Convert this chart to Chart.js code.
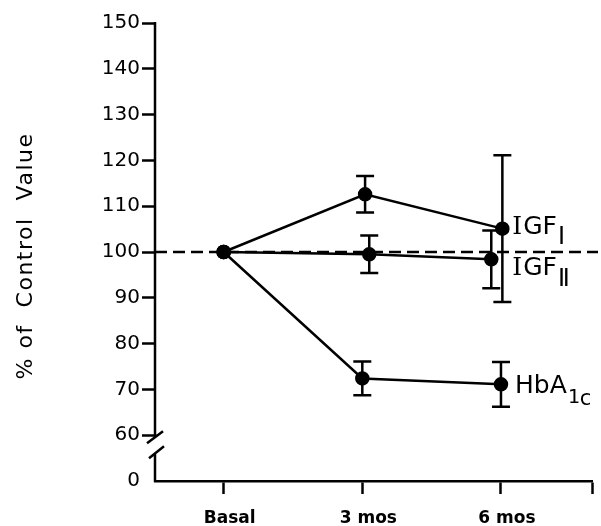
<!DOCTYPE html>
<html>
<head>
<meta charset="utf-8">
<script src="https://cdn.jsdelivr.net/npm/chart.js@4/dist/chart.umd.min.js"></script>
<style>
    html, body { margin: 0; padding: 0; background: #fff; }
    canvas { display: block; }
</style>
</head>
<body>
<canvas id="impactChart" width="601" height="526"></canvas>
<script>
// Time points on the x axis
const timeLabels = ['Basal', '3 mos', '6 mos'];
const timePos = [0, 1, 2];

// y tick labels ("0" sits below the axis break)
const yTickValues = [0, 60, 70, 80, 90, 100, 110, 120, 130, 140, 150];
const BREAK_AT = 50; // axis value where the "0" label is drawn

// % of control value, mean and error
const igf1Values = [100, 112.6, 105.1];
const igf1Errors = [0, 4.0, 16.0];
const igf2Values = [100, 99.5, 98.4];
const igf2Errors = [0, 4.1, 6.3];
const hbaValues = [100, 72.4, 71.1];
const hbaErrors = [0, 3.7, 4.9];

// small horizontal shifts the original used to keep the bars apart
const igf1Shift = [0, 0.02, 0.01];
const igf2Shift = [0, 0.05, -0.07];
const hbaShift = [0, 0, 0];

function toPoints(values, shift) {
    return values.map((v, i) => ({ x: timePos[i] + shift[i], y: v }));
}

const SANS = '"DejaVu Sans", sans-serif';
const SERIF = '"DejaVu Serif", serif';
const LINE_W = 2.5;

// Dashed 100% reference line
const controlLine = {
    id: 'controlLine',
    beforeDatasetsDraw(chart) {
        const { ctx, chartArea, scales: { y } } = chart;
        const py = y.getPixelForValue(100);
        ctx.save();
        ctx.strokeStyle = '#000';
        ctx.lineWidth = LINE_W;
        ctx.setLineDash([12, 6]);
        ctx.beginPath();
        ctx.moveTo(chartArea.left, py);
        ctx.lineTo(chart.width - 3, py);
        ctx.stroke();
        ctx.restore();
    }
};

// Vertical error bars with caps
const errorBars = {
    id: 'errorBars',
    beforeDatasetsDraw(chart) {
        const { ctx, scales: { x, y } } = chart;
        ctx.save();
        ctx.strokeStyle = '#000';
        ctx.lineWidth = LINE_W;
        chart.data.datasets.forEach(ds => {
            ds.data.forEach((pt, i) => {
                const e = ds.errors[i];
                if (!e) return;
                const px = x.getPixelForValue(pt.x);
                const top = y.getPixelForValue(pt.y + e);
                const bot = y.getPixelForValue(pt.y - e);
                ctx.beginPath();
                ctx.moveTo(px, top); ctx.lineTo(px, bot);
                ctx.moveTo(px - 9, top); ctx.lineTo(px + 9, top);
                ctx.moveTo(px - 9, bot); ctx.lineTo(px + 9, bot);
                ctx.stroke();
            });
        });
        ctx.restore();
    }
};

// Series names written next to the last point
const seriesTags = {
    id: 'seriesTags',
    afterDatasetsDraw(chart) {
        const { ctx, scales: { x, y } } = chart;
        ctx.save();
        ctx.fillStyle = '#000';
        ctx.textBaseline = 'alphabetic';
        chart.data.datasets.forEach(ds => {
            const tag = ds.tag;
            const last = ds.data[ds.data.length - 1];
            let cx = x.getPixelForValue(last.x) + tag.dx;
            const by = y.getPixelForValue(last.y);
            tag.parts.forEach(p => {
                ctx.font = p.font;
                ctx.fillText(p.text, cx, by + p.dy);
                cx += ctx.measureText(p.text).width + (p.gap || 0);
            });
        });
        ctx.restore();
    }
};

// y axis line with the break between 60 and 0, plus the axis title
const brokenAxis = {
    id: 'brokenAxis',
    afterDraw(chart) {
        const { ctx, chartArea, scales: { y } } = chart;
        const ax = chartArea.left;
        const y60 = y.getPixelForValue(60);
        ctx.save();
        ctx.strokeStyle = '#000';
        ctx.lineWidth = LINE_W;
        ctx.beginPath();
        ctx.moveTo(ax, chartArea.top - 1);
        ctx.lineTo(ax, y60 + 2);
        ctx.moveTo(ax - 8, y60 + 8);
        ctx.lineTo(ax + 8, y60 - 4);
        ctx.moveTo(ax - 6, y60 + 23);
        ctx.lineTo(ax + 9, y60 + 11);
        ctx.moveTo(ax, y60 + 18);
        ctx.lineTo(ax, chartArea.bottom + 1);
        ctx.stroke();

        // axis title
        ctx.translate(26, (chartArea.top + chartArea.bottom) / 2 + 4);
        ctx.rotate(-Math.PI / 2);
        ctx.font = '22px ' + SANS;
        ctx.letterSpacing = '1.5px';
        ctx.textAlign = 'center';
        ctx.textBaseline = 'middle';
        ctx.fillStyle = '#000';
        ctx.fillText('% of  Control  Value', 0, 0);
        ctx.restore();
    }
};

const lineStyle = {
    borderColor: '#000',
    borderWidth: LINE_W,
    pointRadius: 6,
    pointHoverRadius: 6,
    pointBackgroundColor: '#000',
    pointBorderColor: '#000',
    tension: 0,
    fill: false
};

const data = {
    datasets: [
        {
            label: 'IGF I',
            data: toPoints(igf1Values, igf1Shift),
            errors: igf1Errors,
            tag: { dx: 10, parts: [
                { text: 'I', font: '25px ' + SERIF, dy: 5, gap: 1 },
                { text: 'GF', font: '25px ' + SANS, dy: 5, gap: 1 },
                { text: 'Ⅰ', font: '24px ' + SANS, dy: 15 }
            ] },
            ...lineStyle
        },
        {
            label: 'IGF II',
            data: toPoints(igf2Values, igf2Shift),
            errors: igf2Errors,
            tag: { dx: 21, parts: [
                { text: 'I', font: '25px ' + SERIF, dy: 16, gap: 1 },
                { text: 'GF', font: '25px ' + SANS, dy: 16, gap: 1 },
                { text: 'Ⅱ', font: '24px ' + SANS, dy: 27 }
            ] },
            ...lineStyle
        },
        {
            label: 'HbA1c',
            data: toPoints(hbaValues, hbaShift),
            errors: hbaErrors,
            tag: { dx: 14, parts: [
                { text: 'HbA', font: '25px ' + SANS, dy: 9, gap: 1 },
                { text: '1', font: '20px "DejaVu Sans Mono", monospace', dy: 19 },
                { text: 'c', font: '21px ' + SANS, dy: 21 }
            ] },
            ...lineStyle
        }
    ]
};

const config = {
    type: 'line',
    data: data,
    options: {
        responsive: false,
        animation: false,
        layout: { padding: { top: 23, right: 6, left: 0, bottom: 0 } },
        plugins: {
            legend: { display: false },
            tooltip: { enabled: false }
        },
        scales: {
            x: {
                type: 'linear',
                min: -0.495,
                max: 2.66,
                afterBuildTicks: s => {
                    s.ticks = timePos.map(v => ({ value: v })).concat([{ value: 2.66 }]);
                },
                afterFit: s => {
                    s.height = 45;
                    s.paddingLeft = 0;
                    s.paddingRight = 0;
                },
                border: { display: true, color: '#000', width: LINE_W },
                grid: {
                    drawOnChartArea: false,
                    drawTicks: true,
                    tickLength: 13,
                    tickColor: '#000',
                    tickWidth: LINE_W
                },
                ticks: {
                    autoSkip: false,
                    maxRotation: 0,
                    padding: 14,
                    labelOffset: 6,
                    color: '#000',
                    font: { family: SANS, size: 17, weight: 'bold' },
                    callback: v => {
                        const i = timePos.indexOf(v);
                        return i >= 0 ? timeLabels[i] : '';
                    }
                }
            },
            y: {
                type: 'linear',
                min: BREAK_AT,
                max: 150,
                afterBuildTicks: s => {
                    s.ticks = yTickValues.map(v => ({ value: v === 0 ? BREAK_AT : v }));
                },
                afterFit: s => { s.width = 155; },
                border: { display: false },
                grid: {
                    drawOnChartArea: false,
                    drawTicks: true,
                    tickLength: 13,
                    tickWidth: LINE_W,
                    tickColor: ctx => (ctx.tick && ctx.tick.value === BREAK_AT) ? 'rgba(0,0,0,0)' : '#000'
                },
                ticks: {
                    autoSkip: false,
                    padding: 2,
                    color: '#000',
                    font: { family: SANS, size: 20 },
                    callback: v => v === BREAK_AT ? '0' : String(v)
                }
            }
        }
    },
    plugins: [controlLine, errorBars, seriesTags, brokenAxis]
};

new Chart(document.getElementById('impactChart'), config);
</script>
</body>
</html>
